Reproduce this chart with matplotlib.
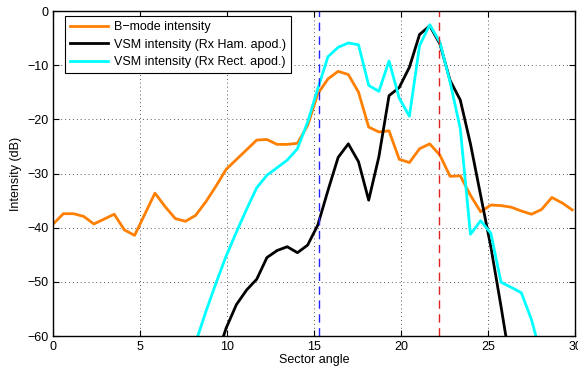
import numpy as np
from matplotlib import pyplot as plt

plt.rcParams['font.family'] = ['Liberation Sans', 'DejaVu Sans']

# Sector angle samples
angle = [0.0, 0.585, 1.17, 1.755, 2.34, 2.925, 3.51, 4.095, 4.68, 5.265,
         5.85, 6.435, 7.02, 7.605, 8.19, 8.775, 9.36, 9.945, 10.53, 11.115,
         11.7, 12.285, 12.87, 13.455, 14.04, 14.625, 15.21, 15.795, 16.38, 16.965,
         17.55, 18.135, 18.72, 19.305, 19.89, 20.475, 21.06, 21.645, 22.23, 22.815,
         23.4, 23.985, 24.57, 25.155, 25.74, 26.325, 26.91, 27.495, 28.08, 28.665,
         29.25, 29.835]

# B-mode intensity (dB)
bmode = [-39.3, -37.4, -37.4, -37.9, -39.3, -38.4, -37.5, -40.4, -41.4, -37.5,
         -33.6, -36.1, -38.3, -38.8, -37.7, -35.2, -32.3, -29.2, -27.4, -25.6,
         -23.8, -23.7, -24.6, -24.6, -24.4, -21.1, -15.25, -12.5, -11.1, -11.7,
         -14.95, -21.4, -22.3, -22.1, -27.35, -27.95, -25.4, -24.5, -26.6, -30.5,
         -30.4, -34.0, -37.05, -35.8, -35.9, -36.2, -36.9, -37.5, -36.6, -34.4,
         -35.4, -36.7]

nan = np.nan
# VSM intensity, Hamming apodization on receive (dB)
vsm_ham = [nan] * 16 + [
    -64.2, -58.5, -54.2, -51.5, -49.5, -45.5, -44.2, -43.5, -44.6, -43.2,
    -39.5, -33.1, -27.0, -24.5, -27.8, -34.9, -26.9, -15.6, -14.1, -10.35,
    -4.3, -2.7, -6.05, -12.8, -16.4, -24.5, -34.0, -43.5, -54.5, -66.0] + [nan] * 6

# VSM intensity, rectangular apodization on receive (dB)
vsm_rect = [nan] * 14 + [
    -61.2, -55.5, -50.2, -45.2, -40.8, -36.6, -32.6, -30.3, -28.9, -27.5,
    -25.4, -20.5, -14.3, -8.4, -6.67, -5.87, -6.2, -13.7, -14.8, -9.2,
    -16.05, -19.4, -6.35, -2.5, -5.75, -13.1, -21.7, -41.2, -38.7, -41.0,
    -50.05, -51.0, -52.0, -57.0, -64.0] + [nan] * 3

# markers for the sector edges
left_edge = 15.26
right_edge = 22.15

fig = plt.figure(figsize=(5.78, 3.73), dpi=100)
ax = fig.add_axes([0.092, 0.099, 0.903, 0.871])

ax.plot(angle, bmode, color='#ff7f00', lw=2, label='B\u2212mode intensity')
ax.plot(angle, vsm_ham, color='k', lw=2, label='VSM intensity (Rx Ham. apod.)')
ax.plot(angle, vsm_rect, color='#00ffff', lw=2, label='VSM intensity (Rx Rect. apod.)')
ax.axvline(left_edge, color='#2222ff', lw=1, dashes=(6, 4))
ax.axvline(right_edge, color='#dd2222', lw=1, dashes=(6, 4))

ax.set_xlim(0, 30)
ax.set_ylim(-60, 0)
ax.set_xticks(np.arange(0, 31, 5))
ax.set_yticks(np.arange(-60, 1, 10))
ax.grid(True, color='0.35', linestyle=(0, (1, 3)), lw=0.7)
ax.tick_params(direction='in', top=True, right=True, labelsize=9, length=4, width=0.8)
for s in ax.spines.values():
    s.set_linewidth(1.0)

ax.set_xlabel('Sector angle', fontsize=9, labelpad=1)
ax.set_ylabel('Intensity (dB)', fontsize=9, labelpad=4)

leg = ax.legend(loc='upper left', bbox_to_anchor=(0.022, 0.985), borderaxespad=0,
                fontsize=9, fancybox=False, framealpha=1, edgecolor='k',
                handlelength=3.1, handletextpad=0.45, labelspacing=0.45,
                borderpad=0.4)
leg.get_frame().set_linewidth(0.8)

fig.savefig('out.png', dpi=100)
